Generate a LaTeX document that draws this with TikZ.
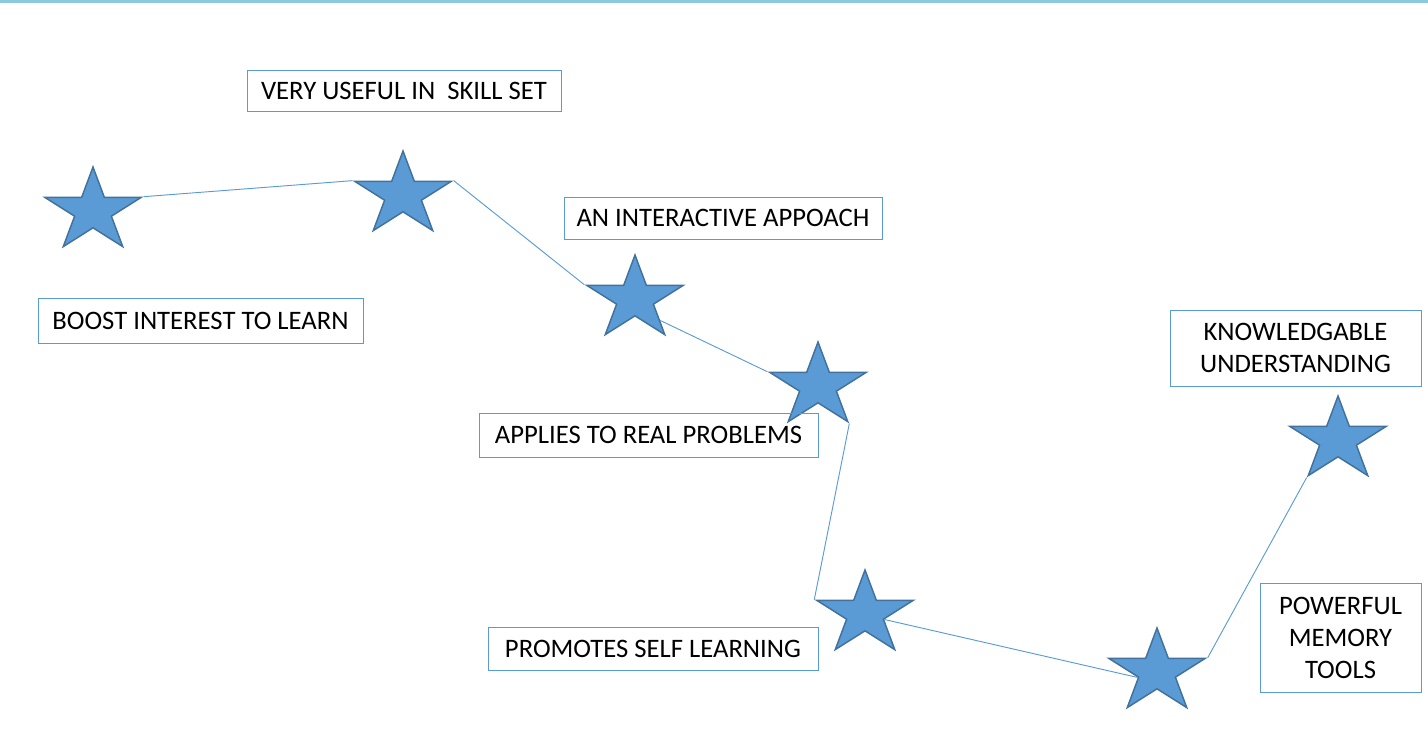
\documentclass[tikz,border=0pt]{standalone}
\usepackage{fontspec}
\setmainfont{Carlito}
\usetikzlibrary{shapes.geometric,calc}
\definecolor{starfill}{RGB}{91,155,213}
\definecolor{stardraw}{RGB}{65,113,156}
\definecolor{linkblue}{RGB}{91,155,213}
\definecolor{topbar}{RGB}{140,200,222}
\tikzset{
  point/.style={star, star points=5, star point ratio=2.618, minimum size=66pt,
    inner sep=0pt, fill=starfill, draw=stardraw, line width=1.1pt, xscale=1.15},
  tagbox/.style={draw=linkblue, line width=0.75pt, align=center, inner sep=0pt,
    font=\fontsize{20pt}{24pt}\selectfont},
  link/.style={draw=linkblue, line width=0.7pt}
}
\begin{document}
\begin{tikzpicture}[x=0.75pt,y=0.75pt]
\useasboundingbox (0,0) rectangle (1428,-732);
\fill [topbar] (0,0) rectangle (1428,-3);
\node [point] (sBoost) at (93,-211) {};
\node [point] (sSkill) at (403,-195) {};
\node [point] (sInteract) at (635,-299) {};
\node [point] (sApply) at (818,-386) {};
\node [point] (sSelf) at (865,-614) {};
\node [point] (sMemory) at (1157,-672) {};
\node [point] (sKnow) at (1338,-440) {};
\node [tagbox, minimum width=235.5pt, minimum height=30.75pt] (bSkill) at (404,-90.5) {VERY USEFUL IN\ \ SKILL SET};
\node [tagbox, minimum width=238.5pt, minimum height=31.5pt] (bInteract) at (723,-218) {AN INTERACTIVE APPOACH};
\node [tagbox, minimum width=243.75pt, minimum height=33.75pt] (bBoost) at (200.5,-320.5) {BOOST INTEREST TO LEARN};
\node [tagbox, minimum width=254.25pt, minimum height=33pt] (bApply) at (648.5,-435) {APPLIES TO REAL PROBLEMS};
\node [tagbox, minimum width=247.5pt, minimum height=32.25pt] (bSelf) at (653,-648.5) {PROMOTES SELF LEARNING};
\node [tagbox, minimum width=188.25pt, minimum height=57pt] (bKnow) at (1295.5,-348) {KNOWLEDGABLE\\UNDERSTANDING};
\node [tagbox, minimum width=120.75pt, minimum height=81.75pt] (bMemory) at (1340.5,-637.5) {POWERFUL\\MEMORY\\TOOLS};
\draw [link] (sBoost.outer point 5) -- (sSkill.outer point 2);
\draw [link] (sSkill.outer point 5) -- (sInteract.outer point 2);
\draw [link] ($(sInteract.inner point 4)!0.5!(sInteract.outer point 4)$) -- (sApply.outer point 2);
\draw [link] (sApply.outer point 4) -- (sSelf.outer point 2);
\draw [link] (sSelf.inner point 4) -- (sMemory.inner point 2);
\draw [link] (sMemory.outer point 5) -- (sKnow.outer point 3);
\end{tikzpicture}
\end{document}
